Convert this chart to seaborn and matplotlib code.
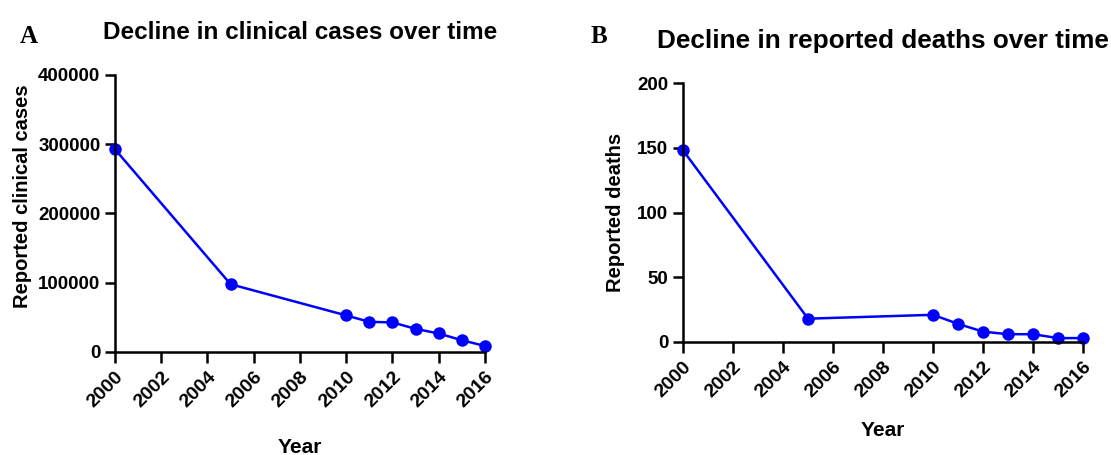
import matplotlib
matplotlib.use("Agg")
import matplotlib.pyplot as plt
import seaborn as sns
import pandas as pd

years = [2000, 2005, 2010, 2011, 2012, 2013, 2014, 2015, 2016]
clinical_cases = [292600, 97800, 52800, 43500, 42700, 33400, 26700, 17000, 8700]
reported_deaths = [148, 18, 21, 14, 8, 6, 6, 3, 3]
x_ticks = list(range(2000, 2017, 2))

sns.set_theme(style="ticks")
plt.rcParams['font.family'] = ['Liberation Sans', 'DejaVu Sans']
plt.rcParams['font.weight'] = 'bold'
plt.rcParams['text.color'] = 'black'
plt.rcParams['axes.labelcolor'] = 'black'
plt.rcParams['xtick.color'] = 'black'
plt.rcParams['ytick.color'] = 'black'

fig = plt.figure(figsize=(11.11, 4.55), dpi=100)
axA = fig.add_axes([0.1035, 0.2264, 0.333, 0.609])
axB = fig.add_axes([0.6148, 0.2484, 0.36, 0.569])

dfA = pd.DataFrame({"Year": years, "Value": clinical_cases})
dfB = pd.DataFrame({"Year": years, "Value": reported_deaths})

panels = [
    (axA, dfA, 400000, 100000, "Reported clinical cases", (-0.225, 0.563), -0.31),
    (axB, dfB, 200, 50, "Reported deaths", (-0.145, 0.5), -0.305),
]
for ax, df, ymax, ystep, ylabel, ylc, xly in panels:
    sns.lineplot(data=df, x="Year", y="Value", ax=ax, color="#0000FF", marker="o",
                 markersize=9, markeredgewidth=0, linewidth=1.8, clip_on=False)
    ax.set_xlim(2000, 2016)
    ax.set_ylim(0, ymax)
    ax.set_xticks(x_ticks)
    ax.set_yticks(range(0, ymax + 1, ystep))
    ax.set_xticklabels([str(t) for t in x_ticks], rotation=45, ha="right",
                       rotation_mode="anchor", fontsize=14, fontweight="bold")
    ax.set_yticklabels([str(t) for t in range(0, ymax + 1, ystep)], fontsize=13.5, fontweight="bold")
    ax.set_xlabel("Year", fontsize=15, fontweight="bold")
    ax.set_ylabel(ylabel, fontsize=14.5, fontweight="bold")
    ax.yaxis.set_label_coords(*ylc)
    ax.xaxis.set_label_coords(0.5, xly)
    for s in ["top", "right"]:
        ax.spines[s].set_visible(False)
    for s in ["left", "bottom"]:
        ax.spines[s].set_linewidth(1.8)
        ax.spines[s].set_color("black")
    ax.tick_params(axis="x", width=1.8, length=8, color="black", pad=4)
    ax.tick_params(axis="y", width=1.8, length=7.5, color="black", pad=3)

axA.set_title("Decline in clinical cases over time", fontsize=17.5, fontweight="bold", pad=26)
axB.set_title("Decline in reported deaths over time", fontsize=18.8, fontweight="bold", pad=25)

fig.text(0.018, 0.905, "A", fontsize=18, fontweight="bold", family="Liberation Serif")
fig.text(0.532, 0.905, "B", fontsize=18, fontweight="bold", family="Liberation Serif")

fig.savefig("out.png", dpi=100)
